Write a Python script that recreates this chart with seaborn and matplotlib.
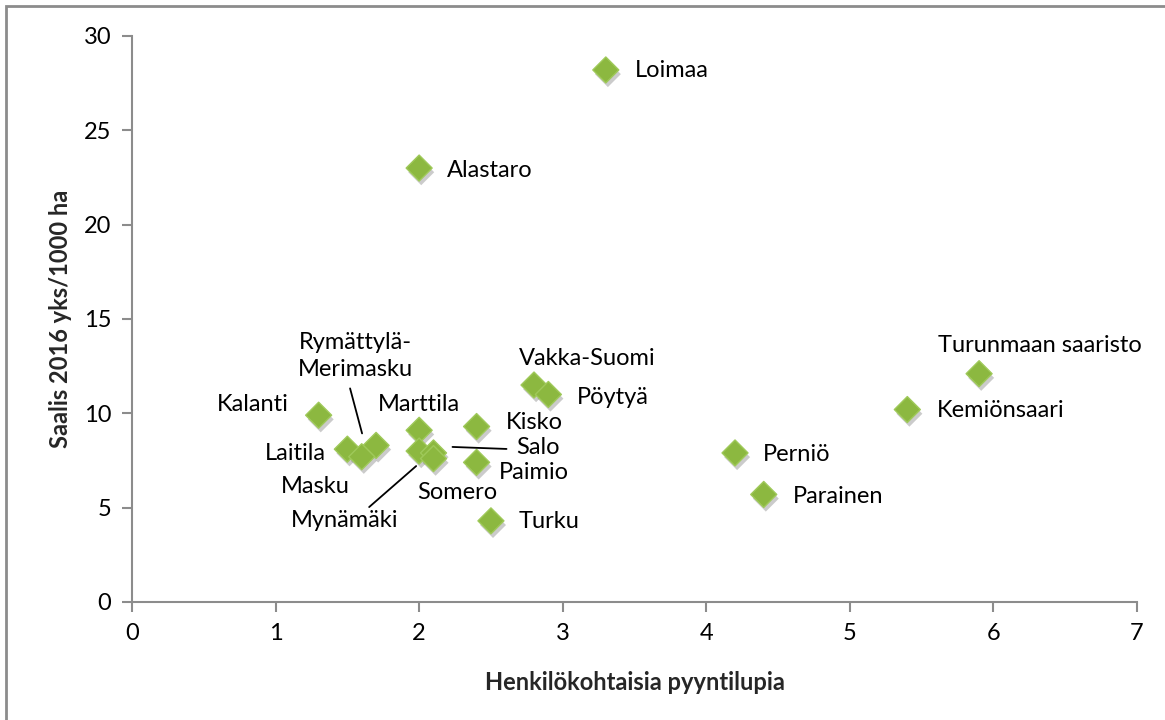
import matplotlib
matplotlib.use("Agg")
import matplotlib.pyplot as plt
import matplotlib.patheffects as pe
from matplotlib.patches import Rectangle
from matplotlib.transforms import offset_copy
import seaborn as sns
import pandas as pd

# Catch per municipality vs. personal hunting permits
kunnat = ["Loimaa", "Alastaro", "Turunmaan saaristo", "Kemiönsaari", "Perniö",
          "Parainen", "Vakka-Suomi", "Pöytyä", "Kalanti", "Kisko", "Marttila",
          "Laitila", "Rymättylä-\nMerimasku", "Masku", "Mynämäki", "Salo",
          "Somero", "Paimio", "Turku"]
luvat = [3.3, 2.0, 5.9, 5.4, 4.2, 4.4, 2.8, 2.9, 1.3, 2.4, 2.0,
         1.5, 1.7, 1.6, 2.0, 2.1, 2.1, 2.4, 2.5]
saalis = [28.2, 23.0, 12.1, 10.2, 7.9, 5.7, 11.5, 11.0, 9.9, 9.3, 9.1,
          8.1, 8.3, 7.7, 8.0, 7.9, 7.6, 7.4, 4.3]

x_ticks = [0, 1, 2, 3, 4, 5, 6, 7]
y_ticks = [0, 5, 10, 15, 20, 25, 30]

df = pd.DataFrame({"kunta": kunnat, "luvat": luvat, "saalis": saalis})

# label placement: offset (pixels) of text anchor from the point, alignment
label_pos = {
    "Loimaa": (29, -1, "left"),
    "Alastaro": (28, -2, "left"),
    "Turunmaan saaristo": (61, 28, "center"),
    "Kemiönsaari": (30, -1, "left"),
    "Perniö": (28, -2, "left"),
    "Parainen": (29, -2, "left"),
    "Vakka-Suomi": (53, 27, "center"),
    "Pöytyä": (29, -3, "left"),
    "Kalanti": (-30, 11, "right"),
    "Kisko": (29, 4, "left"),
    "Marttila": (-41, 26, "left"),
    "Laitila": (-21, -4, "right"),
    "Rymättylä-\nMerimasku": (-21, 89, "center"),
    "Masku": (-12, -30, "right"),
    "Mynämäki": (-21, -69, "right"),
    "Salo": (83, 5, "left"),
    "Somero": (-16, -34, "left"),
    "Paimio": (22, -10, "left"),
    "Turku": (28, -1, "left"),
}

# leader lines: (start offset, end offset) in pixels from the point
leaders = {
    "Salo": ((19, 6), (73, 4)),
    "Mynämäki": ((-3, -15), (-50, -56)),
    "Rymättylä-\nMerimasku": ((-26, 57), (-14, 12)),
}

sns.set_theme(style="white")
plt.rcParams["font.family"] = ["Lato", "DejaVu Sans"]

fig = plt.figure(figsize=(11.65, 7.20), dpi=100)
ax = fig.add_axes([0.1133, 0.1639, 0.8627, 0.7861])

sns.scatterplot(
    data=df, x="luvat", y="saalis", ax=ax, marker="D", s=175,
    color="#8cb840", edgecolor="#9fc95a", linewidth=1.0, zorder=3,
    path_effects=[pe.SimplePatchShadow(offset=(1.5, -3), shadow_rgbFace="#555555",
                                       alpha=0.3),
                  pe.Normal()],
)

for _, r in df.iterrows():
    dx, dy, ha = label_pos[r["kunta"]]
    ax.annotate(r["kunta"], (r["luvat"], r["saalis"]), xytext=(dx, dy),
                textcoords="offset pixels", ha=ha, va="center",
                fontsize=17, color="#000000", linespacing=1.35, zorder=4)
    if r["kunta"] in leaders:
        (sx, sy), (ex, ey) = leaders[r["kunta"]]
        start_tr = offset_copy(ax.transData, fig=fig, x=sx, y=sy, units="dots")
        end_tr = offset_copy(ax.transData, fig=fig, x=ex, y=ey, units="dots")
        ax.annotate("", xy=(r["luvat"], r["saalis"]), xycoords=start_tr,
                    xytext=(r["luvat"], r["saalis"]), textcoords=end_tr,
                    arrowprops=dict(arrowstyle="-", color="black", lw=1.3,
                                    shrinkA=0, shrinkB=0),
                    annotation_clip=False)

ax.set_xlim(0, 7)
ax.set_ylim(0, 30)
ax.set_xticks(x_ticks)
ax.set_yticks(y_ticks)
ax.tick_params(axis="both", which="major", labelsize=17, labelcolor="#000000",
               color="#8c8c8c", length=7, width=1.5, direction="out", pad=8)
ax.tick_params(left=True, bottom=True)

for side in ["top", "right"]:
    ax.spines[side].set_visible(False)
for side in ["left", "bottom"]:
    ax.spines[side].set_color("#8c8c8c")
    ax.spines[side].set_linewidth(1.5)

ax.set_xlabel("Henkilökohtaisia pyyntilupia", fontsize=17, fontweight="bold")
ax.set_ylabel("Saalis 2016 yks/1000 ha", fontsize=17, fontweight="bold")
ax.xaxis.set_label_coords(0.5, -0.122)
ax.yaxis.set_label_coords(-0.060, 0.5)

# chart-area frame
fig.add_artist(Rectangle((6 / 1165, -0.1), 1.2, (714 / 720) + 0.1,
                         transform=fig.transFigure, fill=False,
                         edgecolor="#8c8c8c", linewidth=2))

fig.savefig("out.png", dpi=100)
